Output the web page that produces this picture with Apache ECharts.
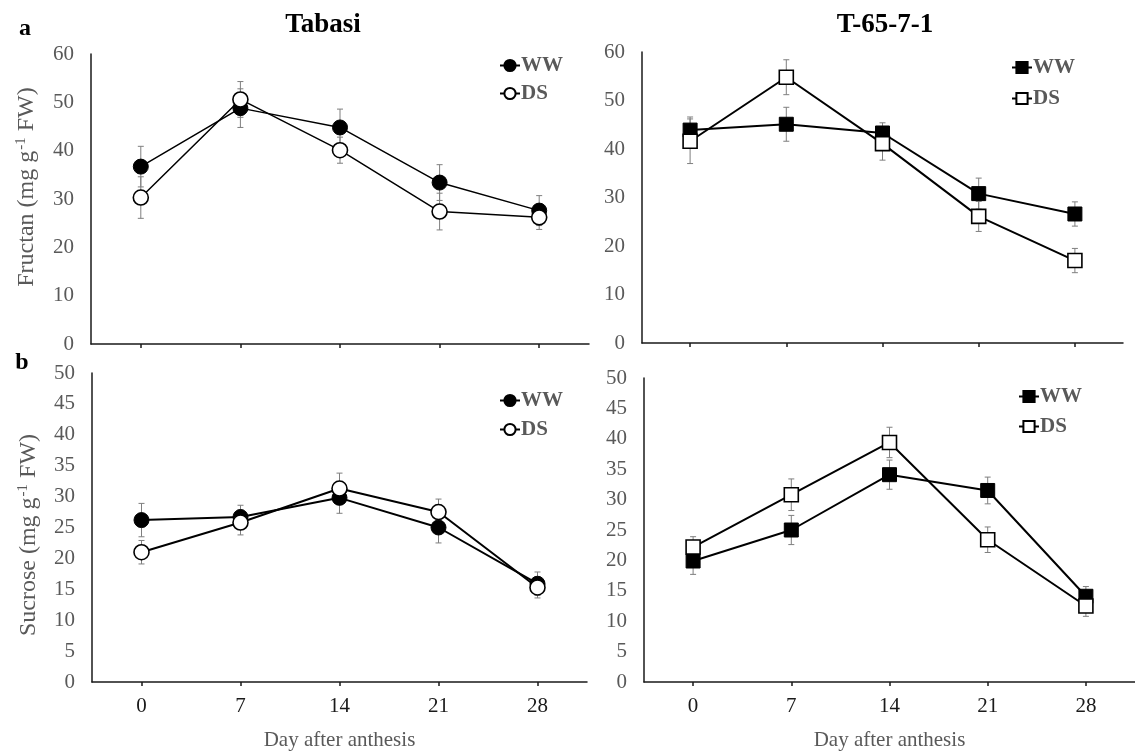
<!DOCTYPE html>
<html>
<head>
<meta charset="utf-8">
<script src="https://cdn.jsdelivr.net/npm/echarts@6/dist/echarts.min.js"></script>
<style>
html,body{margin:0;padding:0;background:#fff;}
#chart{width:1135px;height:752px;}
</style>
</head>
<body>
<div id="chart"></div>
<script>
// ---- data ----
var days = ['0', '7', '14', '21', '28'];
var fructanTicksMax = 60, fructanTickStep = 10;
var sucroseTicksMax = 50, sucroseTickStep = 5;

var fructanTabasiWW = [36.7, 48.8, 44.8, 33.4, 27.6];
var fructanTabasiWWErr = [4.2, 4.0, 3.8, 3.7, 3.1];
var fructanTabasiDS = [30.3, 50.6, 40.1, 27.4, 26.2];
var fructanTabasiDSErr = [4.3, 3.7, 2.7, 3.8, 2.5];

var fructanT65WW = [43.9, 45.1, 43.3, 30.8, 26.6];
var fructanT65WWErr = [2.7, 3.5, 2.1, 3.2, 2.5];
var fructanT65DS = [41.6, 54.8, 41.1, 26.1, 17.0];
var fructanT65DSErr = [4.6, 3.6, 3.4, 3.1, 2.5];

var sucroseTabasiWW = [26.2, 26.7, 29.8, 25.0, 15.9];
var sucroseTabasiWWErr = [2.7, 1.9, 2.5, 2.5, 1.9];
var sucroseTabasiDS = [21.0, 25.8, 31.3, 27.5, 15.3];
var sucroseTabasiDSErr = [1.9, 2.0, 2.5, 2.1, 1.7];

var sucroseT65WW = [19.9, 25.0, 34.1, 31.5, 14.1];
var sucroseT65WWErr = [2.2, 2.4, 2.4, 2.2, 1.6];
var sucroseT65DS = [22.2, 30.8, 39.4, 23.4, 12.5];
var sucroseT65DSErr = [1.7, 2.6, 2.5, 2.1, 1.7];

// ---- chart ----
var SERIF = '"Liberation Serif", "Times New Roman", serif';
var GRAY = '#595959';
var chart = echarts.init(document.getElementById('chart'), null, {renderer: 'canvas'});

var grids = [
  {left: 91, top: 54, width: 498, height: 290},
  {left: 642, top: 52, width: 481, height: 291},
  {left: 92, top: 373, width: 495, height: 309},
  {left: 644, top: 378, width: 494, height: 309}
];

function xAxis(gi, showLabels) {
  return {
    type: 'category', gridIndex: gi, data: days, boundaryGap: true,
    axisLine: {lineStyle: {color: '#1a1a1a', width: 1.5}},
    axisTick: {show: true, alignWithLabel: true, length: 4, lineStyle: {color: '#1a1a1a', width: 1.5}},
    axisLabel: {show: showLabels, color: '#1a1a1a', fontFamily: SERIF, fontSize: 21, margin: 14},
    splitLine: {show: false},
    name: showLabels ? 'Day after anthesis' : '',
    nameLocation: 'middle', nameGap: 48,
    nameTextStyle: {color: GRAY, fontFamily: SERIF, fontSize: 21}
  };
}
function yAxis(gi, max, step) {
  return {
    type: 'value', gridIndex: gi, min: 0, max: max, interval: step,
    axisLine: {show: true, lineStyle: {color: '#1a1a1a', width: 1.5}},
    axisTick: {show: false},
    axisLabel: {color: GRAY, fontFamily: SERIF, fontSize: 21, margin: 17},
    splitLine: {show: false}
  };
}

function lineSeries(name, gi, data, symbol, filled, size, lw, z) {
  return {
    type: 'line', name: name, xAxisIndex: gi, yAxisIndex: gi, data: data,
    symbol: symbol, symbolSize: size, showSymbol: true,
    lineStyle: {color: '#000', width: lw},
    itemStyle: {color: filled ? '#000' : '#fff', borderColor: '#000', borderWidth: filled ? 1 : 1.6, opacity: 1},
    z: z, animation: false, silent: true
  };
}
function errSeries(gi, vals, errs) {
  return {
    type: 'custom', xAxisIndex: gi, yAxisIndex: gi, silent: true, animation: false, z: 1,
    encode: {x: 0, y: [1, 2]},
    data: vals.map(function (v, i) { return [i, v - errs[i], v + errs[i]]; }),
    renderItem: function (params, api) {
      var lo = api.coord([api.value(0), api.value(1)]);
      var hi = api.coord([api.value(0), api.value(2)]);
      var st = {stroke: '#7f7f7f', lineWidth: 1};
      var c = 3;
      return {type: 'group', children: [
        {type: 'line', shape: {x1: lo[0], y1: lo[1], x2: hi[0], y2: hi[1]}, style: st},
        {type: 'line', shape: {x1: hi[0] - c, y1: hi[1], x2: hi[0] + c, y2: hi[1]}, style: st},
        {type: 'line', shape: {x1: lo[0] - c, y1: lo[1], x2: lo[0] + c, y2: lo[1]}, style: st}
      ]};
    }
  };
}
function legend(left, top, gap, names) {
  return {
    left: left, top: top, orient: 'vertical', itemGap: gap, itemWidth: 20, itemHeight: 14,
    data: names, selectedMode: false,
    formatter: function (n) { return n.trim(); },
    textStyle: {color: GRAY, fontFamily: SERIF, fontSize: 21, fontWeight: 'bold', padding: [0, 0, 0, -4]}
  };
}

var option = {
  backgroundColor: '#fff',
  animation: false,
  grid: grids,
  xAxis: [xAxis(0, false), xAxis(1, false), xAxis(2, true), xAxis(3, true)],
  yAxis: [yAxis(0, fructanTicksMax, fructanTickStep), yAxis(1, fructanTicksMax, fructanTickStep),
          yAxis(2, sucroseTicksMax, sucroseTickStep), yAxis(3, sucroseTicksMax, sucroseTickStep)],
  legend: [
    legend(494, 50, 7, ['WW', 'DS']),
    legend(1006, 52, 10, ['WW ', 'DS ']),
    legend(494, 385, 8, ['WW', 'DS']),
    legend(1013, 381, 9, ['WW ', 'DS '])
  ],
  series: [
    errSeries(0, fructanTabasiWW, fructanTabasiWWErr),
    errSeries(0, fructanTabasiDS, fructanTabasiDSErr),
    lineSeries('WW', 0, fructanTabasiWW, 'circle', true, 15, 1.5, 2),
    lineSeries('DS', 0, fructanTabasiDS, 'circle', false, 15, 1.5, 3),

    errSeries(1, fructanT65WW, fructanT65WWErr),
    errSeries(1, fructanT65DS, fructanT65DSErr),
    lineSeries('WW ', 1, fructanT65WW, 'rect', true, 14, 2, 2),
    lineSeries('DS ', 1, fructanT65DS, 'rect', false, 14, 2, 3),

    errSeries(2, sucroseTabasiWW, sucroseTabasiWWErr),
    errSeries(2, sucroseTabasiDS, sucroseTabasiDSErr),
    lineSeries('WW', 2, sucroseTabasiWW, 'circle', true, 15, 2, 2),
    lineSeries('DS', 2, sucroseTabasiDS, 'circle', false, 15, 2, 3),

    errSeries(3, sucroseT65WW, sucroseT65WWErr),
    errSeries(3, sucroseT65DS, sucroseT65DSErr),
    lineSeries('WW ', 3, sucroseT65WW, 'rect', true, 14, 2, 2),
    lineSeries('DS ', 3, sucroseT65DS, 'rect', false, 14, 2, 3)
  ],
  graphic: [
    {type: 'text', x: 323, y: 25, style: {text: 'Tabasi', fill: '#000', font: 'bold 27px ' + SERIF, textAlign: 'center', textVerticalAlign: 'middle'}},
    {type: 'text', x: 885, y: 25, style: {text: 'T-65-7-1', fill: '#000', font: 'bold 27px ' + SERIF, textAlign: 'center', textVerticalAlign: 'middle'}},
    {type: 'text', x: 25, y: 29, style: {text: 'a', fill: '#000', font: 'bold 24px ' + SERIF, textAlign: 'center', textVerticalAlign: 'middle'}},
    {type: 'text', x: 22, y: 363, style: {text: 'b', fill: '#000', font: 'bold 24px ' + SERIF, textAlign: 'center', textVerticalAlign: 'middle'}},
    {type: 'text', x: 27, y: 187, rotation: Math.PI / 2,
      style: {text: '{t|Fructan (mg g}{s|-1}{t| FW)}', textAlign: 'center', textVerticalAlign: 'middle',
        rich: {t: {fontFamily: SERIF, fontSize: 24, fill: GRAY, color: GRAY, lineHeight: 26},
               s: {fontFamily: SERIF, fontSize: 15, fill: GRAY, color: GRAY, verticalAlign: 'top', lineHeight: 26, padding: [0, 0, 8, 1]}}}},
    {type: 'text', x: 29, y: 535, rotation: Math.PI / 2,
      style: {text: '{t|Sucrose (mg g}{s|-1}{t| FW)}', textAlign: 'center', textVerticalAlign: 'middle',
        rich: {t: {fontFamily: SERIF, fontSize: 24, fill: GRAY, color: GRAY, lineHeight: 26},
               s: {fontFamily: SERIF, fontSize: 15, fill: GRAY, color: GRAY, verticalAlign: 'top', lineHeight: 26, padding: [0, 0, 8, 1]}}}}
  ]
};
chart.setOption(option);
</script>
</body>
</html>
